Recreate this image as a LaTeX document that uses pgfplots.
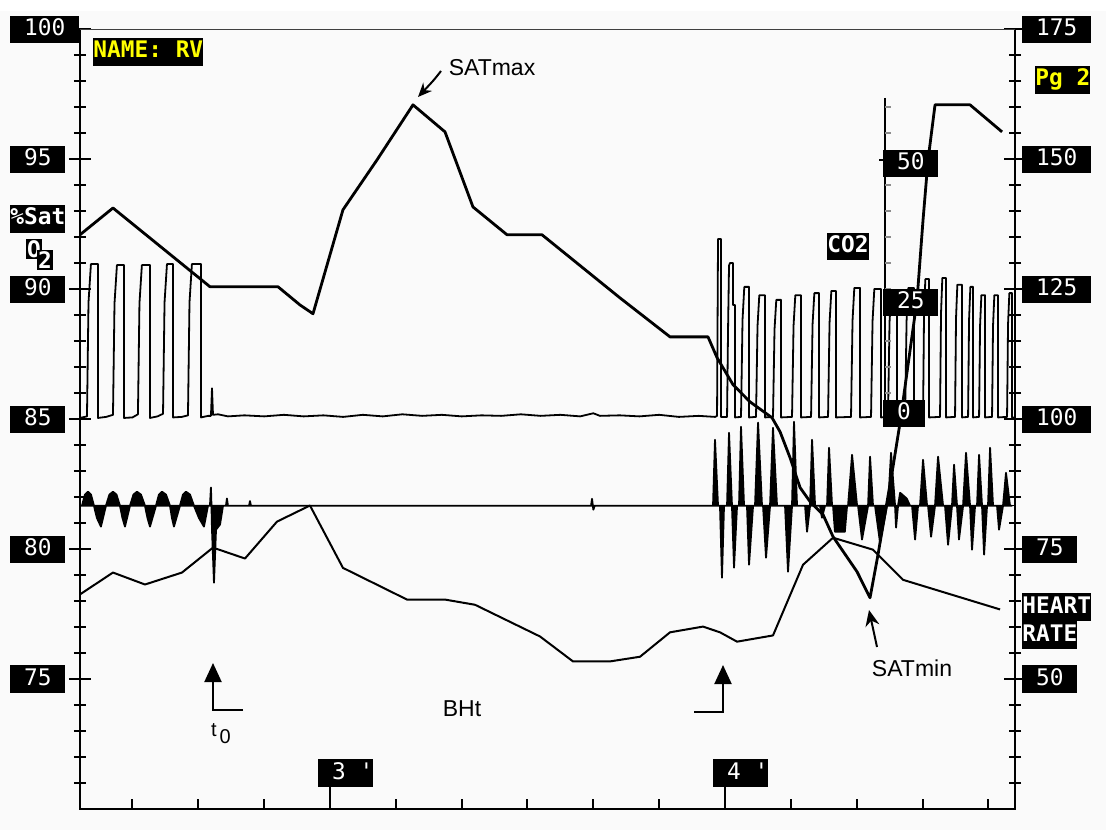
\documentclass[border=0pt]{standalone}
\usepackage{pgfplots}
\pgfplotsset{compat=1.18}
\usepackage{fontspec}
\setmainfont{Liberation Sans}
\newfontfamily\dosfont{DejaVu Sans Mono}
\usetikzlibrary{arrows.meta}

\definecolor{dosyellow}{RGB}{255,255,0}
\definecolor{screen}{RGB}{250,250,250}

\tikzset{
  dosbox/.style={fill=black, text=white, inner xsep=6.9pt, inner ysep=1.2pt,
    text height=8.6pt, text depth=2.6pt,
    font=\dosfont\fontsize{11.4}{13}\selectfont},
  dostag/.style={dosbox, inner xsep=0pt},
  dosbold/.style={font=\dosfont\bfseries\fontsize{11.4}{13}\selectfont},
  note/.style={font=\fontsize{11.5}{13}\selectfont, inner sep=0pt},
}

\pgfplotsset{
  panel/.style={
    at={(0pt,0pt)}, anchor=south west,
    width=467.5pt, height=389.75pt, scale only axis,
    xmin=142.03, xmax=284.05,
    axis line style={draw=none},
    clip=false,
    tick style={black, line width=1pt},
    major tick length=11pt, minor tick length=6pt,
  },
}

\begin{document}
\begin{tikzpicture}

% pixel grid of the screen dump: (0,0) top left, 1 px = 0.5pt
\begin{scope}[shift={(-40pt,404.5pt)}, x=0.5pt, y=-0.5pt]
  \fill[screen] (0,11) rectangle (1106,830);
\end{scope}

% ---- heart rate (right scale, bpm)
\begin{axis}[panel,
  ymin=25, ymax=175,
  xtick=\empty,
  ytick={50,75,...,175}, minor ytick={30,35,...,170},
  ytick pos=right, yticklabel pos=right, tick align=center,
  yticklabel style={dosbox, anchor=west, xshift=-2pt},
  yticklabels={50,75,100,125,150,175},
]
\addplot[black, line width=1pt, line join=round] coordinates {
(142.03,66.3) (147.04,70.5) (151.90,68.2) (157.52,70.5) (162.23,75.3)
(167.09,73.2) (171.95,80.3) (176.96,83.4) (181.97,71.4) (191.70,65.3)
(197.47,65.3) (202.03,64.3) (211.90,58.2) (216.91,53.4) (222.53,53.4)
(227.09,54.3) (231.65,59.0) (236.66,60.1) (239.24,59.0) (241.83,57.2)
(247.29,58.4) (251.85,72.0) (256.41,77.2) (262.48,74.9) (267.04,69.1)
(281.78,63.4)
};
\end{axis}

% ---- SaO2 (left scale, %) and respiration trace
\begin{axis}[panel,
  ymin=70, ymax=100,
  xtick=\empty,
  ytick={75,80,...,100}, minor ytick={71,72,...,99},
  ytick pos=left, yticklabel pos=left, tick align=center,
  yticklabel style={dosbox, anchor=west, xshift=-29.5pt},
  yticklabels={75,80,85,90,95,100},
]
% respiration baseline
\addplot[black, line width=0.6pt] coordinates {(142.03,81.67) (284.05,81.67)};
% respiration trace, filled to its baseline
\addplot[fill=black, draw=black, line width=0.9pt, line join=round] coordinates {
(142.03,81.67)
(142.33,81.67) (142.78,82.10) (143.24,82.21) (143.70,82.10) (144.15,81.67)
(144.60,81.20) (145.21,80.87) (145.97,81.67)
(146.50,82.10) (147.04,82.21) (147.57,82.10) (148.10,81.67)
(148.48,81.20) (148.86,80.87) (149.62,81.67)
(150.15,82.10) (150.68,82.21) (151.29,82.10) (151.90,81.67)
(152.28,81.20) (152.66,80.87) (153.57,81.67)
(154.02,82.10) (154.48,82.21) (155.09,82.10) (155.70,81.67)
(156.00,81.20) (156.30,80.87) (157.21,81.67)
(157.67,82.10) (158.13,82.21) (158.74,82.10) (159.34,81.67)
(160.10,81.20) (160.86,80.87) (161.47,81.67)
(161.77,81.67) (161.92,82.37) (162.00,81.67) (162.08,80.75) (162.38,78.71)
(162.69,80.75) (163.30,80.95) (163.75,81.67)
(164.20,81.67) (164.35,81.95) (164.50,81.67)
(167.70,81.67) (167.85,81.85) (168.00,81.67)
(219.65,81.67) (219.80,81.94) (220.00,81.52) (220.20,81.67)
(238.18,81.67) (238.48,84.21) (238.94,81.67)
(239.24,81.67) (239.54,78.90) (239.85,81.67)
(240.31,81.67) (240.61,84.48) (241.06,81.67)
(241.37,79.29) (241.83,81.67)
(242.13,81.67) (242.43,84.71) (242.89,81.67)
(243.34,81.67) (243.65,79.40) (244.26,81.67)
(244.56,81.67) (245.02,84.87) (245.62,81.67)
(245.78,81.67) (246.23,79.67) (246.84,81.67)
(247.29,84.67) (247.90,81.67)
(249.12,81.67) (249.57,79.13) (250.18,81.67)
(250.48,84.90) (250.94,81.67)
(252.16,81.67) (252.46,80.67) (252.92,81.67)
(253.22,84.21) (253.68,81.67)
(254.43,81.67) (254.73,81.21) (255.19,81.67)
(255.50,81.67) (255.80,83.90) (256.26,81.67)
(256.41,81.67) (256.70,80.67) (258.20,80.67) (258.54,81.67)
(258.69,81.67) (259.30,83.63) (260.06,81.67)
(260.21,81.67) (260.81,80.37) (261.73,81.67)
(262.03,83.56) (262.48,81.67)
(262.79,81.67) (263.55,80.25) (264.61,81.67)
(264.76,81.67) (265.22,83.71) (265.83,81.67)
(265.98,80.83) (266.28,81.67)
(266.60,82.17) (267.60,81.95) (268.11,81.67)
(268.41,81.67) (268.87,80.37) (269.32,81.67)
(269.62,81.67) (270.08,83.44) (270.69,81.67)
(270.84,81.67) (271.30,80.48) (271.90,81.67)
(272.36,83.56) (273.12,81.67)
(273.42,81.67) (273.88,80.17) (274.48,81.67)
(274.79,83.25) (275.24,81.67)
(275.54,80.37) (276.16,81.67)
(276.61,83.71) (277.22,81.67)
(277.52,79.98) (277.98,81.67)
(278.28,81.67) (278.59,83.63) (279.04,81.67)
(279.35,79.79) (279.80,81.67)
(279.95,81.67) (280.26,83.90) (280.71,81.67)
(281.32,81.67) (281.62,80.75) (282.23,81.67)
(282.68,82.94) (283.29,81.67)
(283.60,81.67)
} -- cycle;
% oxygen saturation
\addplot[black, line width=1.4pt, line join=round] coordinates {
(142.03,92.10) (147.04,93.13) (161.77,90.10) (172.10,90.10) (175.44,89.40)
(177.42,89.06) (181.97,93.06) (187.14,94.98) (192.61,97.10) (197.47,96.06)
(201.72,93.17) (206.89,92.10) (212.20,92.10) (224.05,89.67) (231.65,88.17)
(237.42,88.17) (238.79,87.37) (241.22,86.33) (243.80,85.67) (247.14,85.06)
(248.36,84.52) (249.88,83.52) (251.40,82.37) (252.92,81.83) (254.89,81.33)
(256.41,80.48) (260.06,79.13) (262.03,78.13) (263.24,79.79) (265.52,83.17)
(266.59,84.87) (269.17,89.60) (270.08,92.67) (270.84,94.98) (271.90,97.10)
(277.22,97.10) (282.08,96.06)
};
\end{axis}

% ---- CO2 (inner scale) and the time axis
\begin{axis}[panel,
  ymin=-75, ymax=74.9,
  ytick=\empty,
  xtick={150,160,170,190,200,210,220,230,250,260,270,280},
  xticklabels={{},{},{},{},{},{},{},{},{},{},{},{}},
  xtick pos=left, tick align=inside, major tick length=5pt,
  extra x ticks={180,240},
  extra x tick labels={{~3~'},{~4~'}},
  extra x tick style={major tick length=11pt,
    tick label style={dostag, anchor=south west, xshift=-6pt, yshift=11pt}},
]
\addplot[black, line width=0.9pt, line join=round] coordinates {
(142.03,0.2)
(143.09,0.5) (143.32,22.4) (143.69,29.8) (144.76,29.8) (144.76,0.2)
(146.00,0.4) (147.04,0.8) (147.27,22.2) (147.64,29.6) (148.71,29.6) (148.71,0.2)
(150.00,0.3) (150.83,0.9) (151.06,22.2) (151.43,29.6) (152.66,29.6) (152.66,0.2)
(153.80,0.5) (154.64,1.0) (154.87,22.4) (155.24,29.8) (156.16,29.8) (156.16,0.3)
(157.50,0.4) (158.43,0.7) (158.66,22.4) (159.03,29.8) (160.41,29.8) (160.41,0.3)
(161.50,0.6) (161.92,0.6) (162.08,5.9) (162.23,0.8) (163.00,0.9) (164.50,0.5)
(167,0.7) (170,0.5) (173,0.8) (176,0.5) (179,0.7) (182,0.4) (185,0.8) (188,0.5)
(191,0.9) (194,0.6) (197,0.8) (200,0.5) (203,0.7) (206,0.6) (209,0.9) (212,0.6)
(215,0.8) (218,0.5) (220,1.1) (221,0.6) (224,0.7) (227,0.5) (230,0.8) (233,0.4)
(236,0.6) (238.50,0.4)
(238.79,0.6) (238.94,34.6) (239.39,34.6) (239.39,0.4)
(240.31,0.4) (240.46,17.0) (240.61,29.5) (240.76,30.0) (241.22,30.0) (241.22,21.9) (241.52,21.9) (241.52,0.3)
(242.43,0.4) (242.66,19.0) (242.93,25.4) (243.65,25.4) (243.65,0.3)
(244.71,0.4) (244.94,17.9) (245.21,23.8) (246.08,23.8) (246.08,0.3)
(247.29,0.4) (247.52,17.2) (247.79,22.9) (248.51,22.9) (248.51,0.3)
(250.18,0.4) (250.41,17.9) (250.68,23.8) (251.55,23.8) (251.55,0.3)
(253.07,0.4) (253.30,18.2) (253.57,24.2) (254.28,24.2) (254.28,0.3)
(255.65,0.4) (255.88,18.5) (256.15,24.6) (256.86,24.6) (256.86,0.3)
(259.14,0.4) (259.37,18.9) (259.64,25.2) (260.51,25.2) (260.51,0.3)
(262.18,0.4) (262.41,18.8) (262.68,25.0) (263.70,25.0) (263.70,0.3)
(264.76,0.4) (264.99,18.6) (265.26,24.8) (266.13,24.8) (266.13,0.3)
(267.35,0.4) (267.58,18.9) (267.85,25.2) (268.71,25.2) (268.71,0.3)
(270.08,0.4) (270.23,20.2) (270.43,26.9) (270.99,26.9) (270.99,0.3)
(272.66,0.4) (272.81,20.3) (273.01,27.1) (273.57,27.1) (273.57,0.3)
(274.94,0.4) (275.09,19.4) (275.29,25.8) (276.00,25.8) (276.00,0.3)
(276.92,0.4) (277.07,19.1) (277.27,25.4) (277.68,25.4) (277.68,0.3)
(278.59,0.4) (278.74,17.9) (278.94,23.8) (279.50,23.8) (279.50,0.3)
(280.56,0.4) (280.71,17.9) (280.91,23.8) (281.47,23.8) (281.47,0.3)
(282.84,0.4) (282.99,18.2) (283.19,24.2) (283.60,24.2) (283.60,0.3)
(283.95,0.3)
};
% frame
\draw[black, line width=1pt] (rel axis cs:0,1) -- (rel axis cs:0,0) -- (rel axis cs:1,0) -- (rel axis cs:1,1);
\draw[black!75, line width=0.7pt] (rel axis cs:0,1) -- (rel axis cs:1,1);
\end{axis}

% ---- screen annotations
\begin{scope}[shift={(-40pt,404.5pt)}, x=0.5pt, y=-0.5pt]
  % inner CO2 scale
  \draw[black, line width=0.8pt] (885,98) -- (885,419);
  \foreach \yy in {107,133,...,393} \draw[black!45, line width=0.7pt] (885,\yy) -- (891,\yy);
  \draw[black, line width=0.8pt] (879,160) -- (885,160);
  \node[dosbox, anchor=west] at (883,163.5) {50};
  \node[dosbox, anchor=west] at (883,302.5) {25};
  \node[dosbox, anchor=west] at (883,413.5) {0};
  \node[dostag, dosbold, anchor=west] at (827,246.5) {CO2};

  \node[dostag, dosbold, text=dosyellow, anchor=west] at (93,52) {NAME: RV};
  \node[dostag, dosbold, text=dosyellow, anchor=west] at (1035,80) {Pg 2\hspace{5pt}};
  \node[dostag, dosbold, anchor=west] at (10,219) {\%Sat};
  \node[fill=black, text=white, inner sep=0.8pt, dosbold] at (34,249) {O};
  \node[fill=black, text=white, inner sep=0.8pt, dosbold] at (45,260) {2};
  \node[dostag, dosbold, anchor=west] at (1022,607) {HEART};
  \node[dostag, dosbold, anchor=west] at (1022,635) {RATE};

  \node[note] at (492,68) {SATmax};
  \draw[line width=1pt, -{Stealth[length=7pt, width=6pt]}] (441,71) .. controls (434,80) .. (418,97);
  \node[note] at (912,668) {SATmin};
  \draw[line width=1pt, -{Stealth[length=8pt, width=7pt]}] (877,647) -- (869,610);

  \draw[line width=1pt, -{Triangle[length=9.5pt, width=8.5pt]}] (243,710) -- (213,710) -- (213,663);
  \node[note, font=\fontsize{10}{12}\selectfont] at (221,734) {t\hspace{1.5pt}\raisebox{-3.5pt}{0}};
  \draw[line width=1pt, -{Triangle[length=9.5pt, width=8.5pt]}] (694,712) -- (723,712) -- (723,665);
  \node[note] at (462,709) {BHt};
\end{scope}

\pgfresetboundingbox
\path[use as bounding box] (-40pt,-10.5pt) rectangle (513pt,404.5pt);
\end{tikzpicture}
\end{document}
